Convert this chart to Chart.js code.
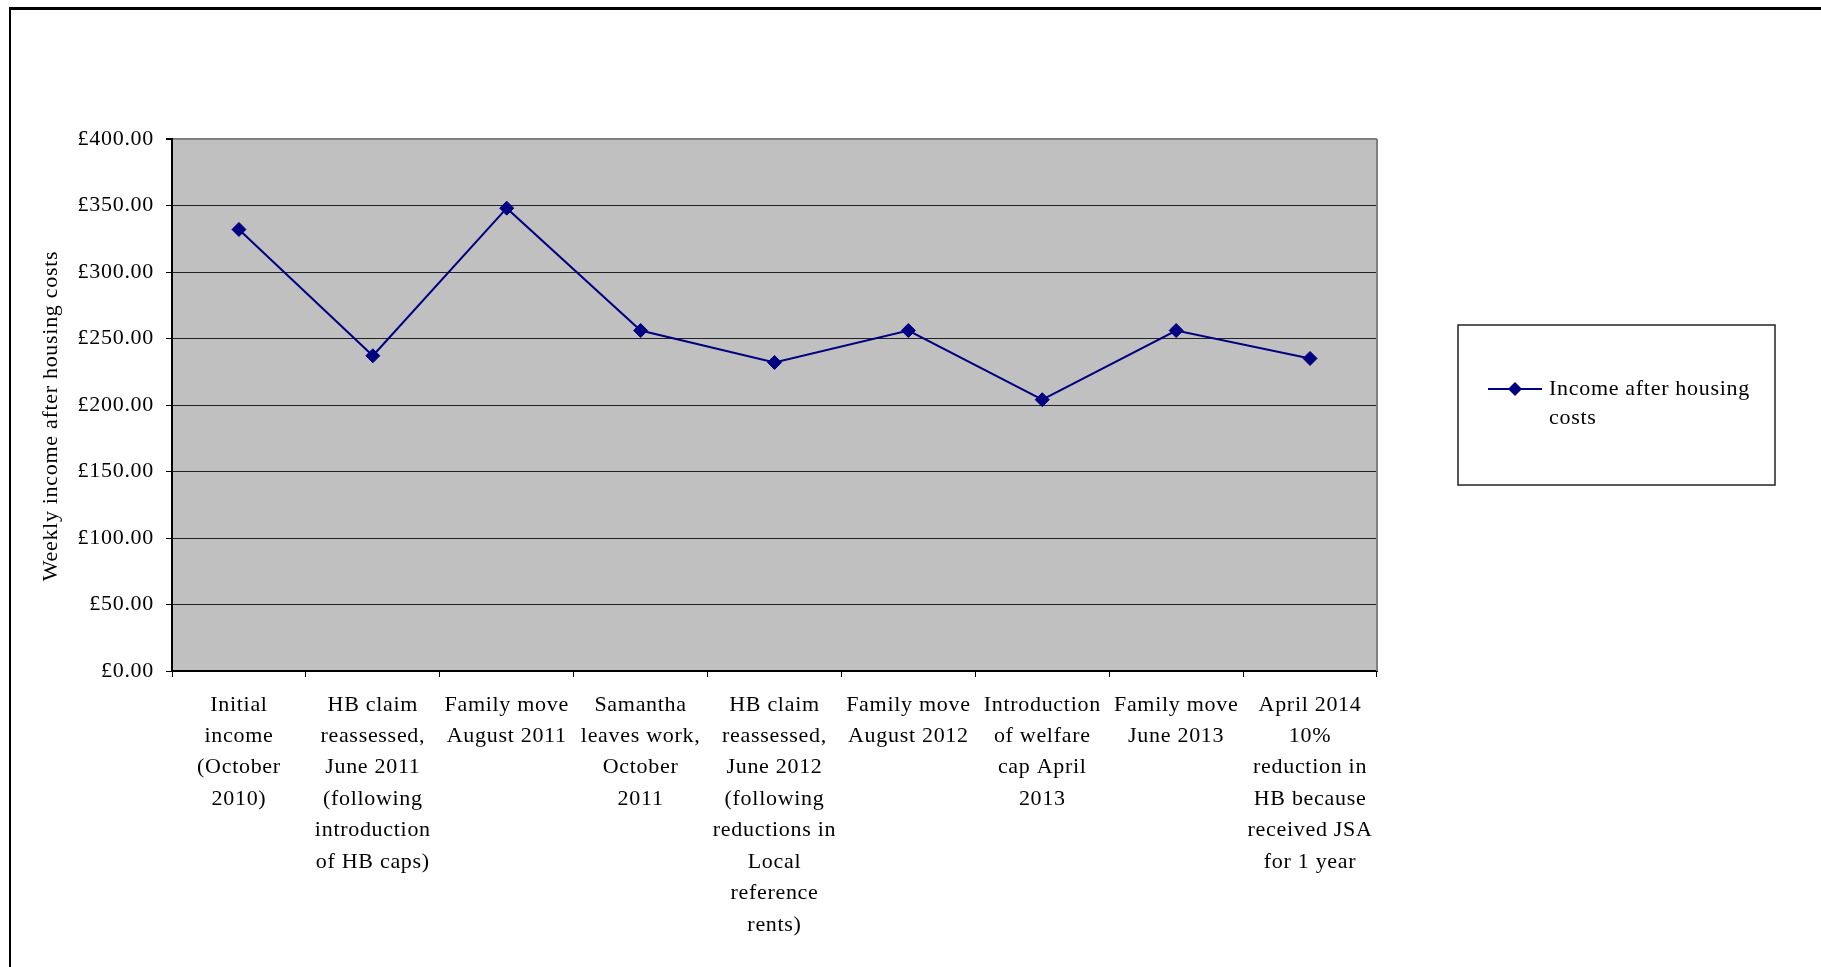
<!DOCTYPE html>
<html>
<head>
<meta charset="utf-8">
<script src="https://cdn.jsdelivr.net/npm/chart.js@4/dist/chart.umd.min.js"></script>
<style>
  html, body { margin: 0; padding: 0; background: #fff; overflow: hidden; }
  .frame {
    position: absolute; left: 9px; top: 7px; width: 2000px; height: 2000px;
    border-left: 2px solid #000; border-top: 3px solid #000;
  }
  canvas { position: absolute; left: 0; top: 0; }
</style>
</head>
<body>
<div class="frame"></div>
<canvas id="chart" width="1821" height="967"></canvas>
<script>
const categories = [
  ['Initial', 'income', '(October', '2010)'],
  ['HB claim', 'reassessed,', 'June 2011', '(following', 'introduction', 'of HB caps)'],
  ['Family move', 'August 2011'],
  ['Samantha', 'leaves work,', 'October', '2011'],
  ['HB claim', 'reassessed,', 'June 2012', '(following', 'reductions in', 'Local', 'reference', 'rents)'],
  ['Family move', 'August 2012'],
  ['Introduction', 'of welfare', 'cap April', '2013'],
  ['Family move', 'June 2013'],
  ['April 2014', '10%', 'reduction in', 'HB because', 'received JSA', 'for 1 year']
];
const incomeAfterHousing = [332, 237, 348, 256, 232, 256, 204, 256, 235];
const seriesName = 'Income after housing costs';
const yAxisTitle = 'Weekly income after housing costs';

const FONT = 'Liberation Serif, "Times New Roman", serif';
const NAVY = '#000080';
const SPACING = '0.7px';

// old Excel text looks a bit spread out
const spacing = {
  id: 'spacing',
  beforeUpdate(chart) { chart.ctx.letterSpacing = SPACING; },
  beforeDraw(chart) { chart.ctx.letterSpacing = SPACING; }
};

// grey plot background, right border and the rotated axis title
const plotArea = {
  id: 'plotArea',
  beforeDraw(chart) {
    const { ctx, chartArea: a } = chart;
    ctx.save();
    ctx.fillStyle = '#C0C0C0';
    ctx.fillRect(a.left, a.top, a.right - a.left, a.bottom - a.top);
    ctx.restore();
  },
  beforeDatasetsDraw(chart) {
    const { ctx, chartArea: a } = chart;
    ctx.save();
    ctx.strokeStyle = '#808080';
    ctx.lineWidth = 2;
    ctx.beginPath();
    ctx.moveTo(a.right, a.top);
    ctx.lineTo(a.right, a.bottom);
    ctx.stroke();

    ctx.translate(51, 416);
    ctx.rotate(-Math.PI / 2);
    ctx.font = '22px ' + FONT;
    ctx.fillStyle = '#000';
    ctx.textAlign = 'center';
    ctx.textBaseline = 'middle';
    ctx.fillText(yAxisTitle, 0, 0);
    ctx.restore();
  }
};

// boxed legend on the right, with wrapped label
const boxLegend = {
  id: 'boxLegend',
  afterDraw(chart) {
    const { ctx } = chart;
    const ds = chart.data.datasets[0];
    const box = { x: 1458, y: 325, w: 317, h: 160 };
    ctx.save();
    ctx.strokeStyle = '#222';
    ctx.lineWidth = 1.5;
    ctx.strokeRect(box.x, box.y, box.w, box.h);

    const ly = 389;
    ctx.strokeStyle = ds.borderColor;
    ctx.lineWidth = 2;
    ctx.beginPath();
    ctx.moveTo(1488, ly);
    ctx.lineTo(1542, ly);
    ctx.stroke();
    ctx.fillStyle = ds.pointBackgroundColor;
    ctx.beginPath();
    ctx.moveTo(1515, ly - 7);
    ctx.lineTo(1522, ly);
    ctx.lineTo(1515, ly + 7);
    ctx.lineTo(1508, ly);
    ctx.closePath();
    ctx.fill();

    ctx.font = '22px ' + FONT;
    ctx.fillStyle = '#000';
    ctx.textBaseline = 'middle';
    const words = ds.label.split(' ');
    const lines = [];
    let cur = '';
    words.forEach(w => {
      const t = cur ? cur + ' ' + w : w;
      if (ctx.measureText(t).width > 215 && cur) { lines.push(cur); cur = w; }
      else cur = t;
    });
    lines.push(cur);
    lines.forEach((l, i) => ctx.fillText(l, 1549, ly + i * 29));
    ctx.restore();
  }
};

new Chart(document.getElementById('chart'), {
  type: 'line',
  data: {
    labels: categories,
    datasets: [{
      label: seriesName,
      data: incomeAfterHousing,
      borderColor: NAVY,
      backgroundColor: NAVY,
      pointBackgroundColor: NAVY,
      pointBorderColor: NAVY,
      borderWidth: 2,
      pointStyle: 'rectRot',
      pointRadius: 7,
      pointBorderWidth: 1,
      tension: 0,
      fill: false
    }]
  },
  options: {
    responsive: false,
    animation: false,
    devicePixelRatio: 1,
    layout: { padding: { top: 139, right: 444, left: 0, bottom: 0 } },
    plugins: {
      legend: { display: false },
      title: { display: false },
      tooltip: { enabled: false }
    },
    scales: {
      x: {
        offset: true,
        afterFit(scale) { scale.height = 296; },
        grid: {
          offset: true,
          drawOnChartArea: false,
          drawTicks: true,
          tickLength: 6,
          tickColor: '#000'
        },
        border: { color: '#000', width: 2 },
        ticks: {
          autoSkip: false,
          maxRotation: 0,
          minRotation: 0,
          padding: 12,
          color: '#000',
          font: { family: FONT, size: 22, lineHeight: 1.43 }
        }
      },
      y: {
        min: 0,
        max: 400,
        afterFit(scale) { scale.width = 172; },
        grid: {
          color: ctx => ctx.tick && ctx.tick.value === 400 ? '#808080' : '#222',
          lineWidth: ctx => ctx.tick && ctx.tick.value === 400 ? 2 : 1,
          tickLength: 6,
          tickColor: '#000'
        },
        border: { color: '#000', width: 2 },
        ticks: {
          stepSize: 50,
          padding: 12,
          color: '#000',
          font: { family: FONT, size: 22 },
          callback: v => '£' + Number(v).toFixed(2)
        }
      }
    }
  },
  plugins: [spacing, plotArea, boxLegend]
});
</script>
</body>
</html>
